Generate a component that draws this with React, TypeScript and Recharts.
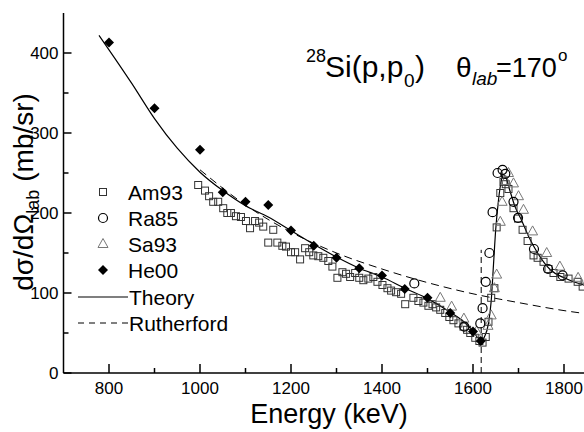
import React from 'react';
import { ComposedChart, Line, Scatter, XAxis, YAxis, ReferenceLine } from 'recharts';

const FONT = '"Liberation Sans", Arial, Helvetica, sans-serif';

// tick values
const xTicks = [800, 900, 1000, 1100, 1200, 1300, 1400, 1500, 1600, 1700, 1800];
const xMajor = [800, 1000, 1200, 1400, 1600, 1800];
const yTicks = [0, 50, 100, 150, 200, 250, 300, 350, 400];
const yMajor = [0, 100, 200, 300, 400];

// data [Energy keV, cross section mb/sr]
const am93: number[][] = [
  [996, 235], [1011, 228], [1020, 221], [1029, 214], [1040, 214], [1051, 206], [1060, 200], [1068, 200],
  [1079, 196], [1090, 195], [1101, 190], [1110, 181], [1121, 190], [1130, 188], [1139, 183], [1150, 163],
  [1161, 179], [1170, 163], [1181, 159], [1189, 158], [1200, 151], [1209, 151], [1220, 142], [1231, 156],
  [1240, 151], [1249, 147], [1260, 146], [1271, 144], [1282, 140], [1291, 133], [1302, 119], [1313, 126],
  [1321, 124], [1330, 120], [1341, 125], [1350, 119], [1359, 116], [1370, 118], [1381, 120], [1390, 114],
  [1401, 110], [1412, 106], [1420, 103], [1431, 101], [1442, 99], [1451, 86], [1469, 94], [1480, 90],
  [1491, 88], [1502, 84], [1511, 86], [1519, 82], [1528, 79], [1539, 75], [1548, 70], [1557, 66],
  [1568, 62], [1579, 58], [1587, 54], [1594, 50], [1605, 44], [1614, 40], [1621, 38], [1628, 45],
  [1634, 64], [1640, 94], [1647, 106], [1652, 182], [1660, 225], [1667, 239], [1672, 236], [1678, 230],
  [1689, 206], [1699, 193], [1709, 179], [1720, 165], [1733, 147], [1742, 144], [1755, 139], [1766, 130],
  [1777, 125], [1792, 120], [1810, 118], [1830, 114], [1841, 108],
];

const ra85: number[][] = [
  [1471, 112], [1581, 58], [1616, 62], [1621, 81], [1628, 114], [1636, 150], [1643, 201], [1654, 250],
  [1665, 254], [1671, 249], [1689, 214], [1699, 194], [1734, 155], [1765, 130], [1797, 122],
];

const sa93: number[][] = [
  [1528, 94], [1553, 83], [1580, 68], [1608, 52], [1633, 59], [1640, 72], [1647, 106], [1652, 123],
  [1660, 189], [1664, 214], [1672, 240], [1678, 250], [1689, 237], [1700, 221], [1711, 204], [1731, 177],
  [1762, 150], [1791, 133], [1831, 119],
];

const he00: number[][] = [
  [800, 413], [900, 331], [1000, 279], [1050, 226], [1100, 214], [1150, 210], [1200, 178], [1250, 159],
  [1300, 144], [1350, 131], [1400, 122], [1450, 105], [1500, 94], [1550, 75], [1600, 52], [1617, 40],
];

const theory: number[][] = [
  [778, 422], [800, 404], [850, 362], [900, 318], [950, 281], [1000, 251], [1050, 228], [1100, 209],
  [1150, 195], [1200, 178], [1250, 161], [1300, 145], [1350, 131], [1400, 120], [1450, 106], [1500, 93],
  [1550, 76], [1580, 64], [1600, 52], [1612, 43], [1618, 40], [1625, 45], [1634, 62], [1640, 90],
  [1645, 135], [1650, 180], [1656, 216], [1662, 240], [1667, 248], [1672, 245], [1680, 230], [1693, 207],
  [1705, 193], [1722, 171], [1742, 150], [1770, 129], [1800, 119], [1843, 110], [1850, 109],
];

const rutherford: number[][] = [
  [1000, 254], [1100, 210], [1200, 176], [1300, 150], [1400, 130], [1500, 113], [1600, 99],
  [1700, 88], [1800, 78], [1850, 74],
];

const resonanceE = 1618;
const resonanceTop = 154;

const toPts = (a: number[][]) => a.map(([x, y]) => ({ x, y }));

const BottomTick = (p: any) => {
  const v = p.payload.value;
  const major = xMajor.includes(v);
  return (
    <g>
      <line x1={p.x} x2={p.x} y1={p.y} y2={p.y - (major ? 9 : 5)} stroke="#000" strokeWidth={1.5} />
      {major && (
        <text x={p.x} y={p.y + 21} textAnchor="middle" fontSize={17} fontFamily={FONT} fill="#000">{v}</text>
      )}
    </g>
  );
};
const TopTick = (p: any) => {
  const major = xMajor.includes(p.payload.value);
  return <line x1={p.x} x2={p.x} y1={p.y} y2={p.y + (major ? 9 : 5)} stroke="#000" strokeWidth={1.5} />;
};
const LeftTick = (p: any) => {
  const v = p.payload.value;
  const major = yMajor.includes(v);
  return (
    <g>
      <line x1={p.x} x2={p.x + (major ? 8 : 5)} y1={p.y} y2={p.y} stroke="#000" strokeWidth={1.5} />
      {major && (
        <text x={p.x - 5} y={p.y + 6} textAnchor="end" fontSize={17} fontFamily={FONT} fill="#000">{v}</text>
      )}
    </g>
  );
};
const RightTick = (p: any) => {
  const major = yMajor.includes(p.payload.value);
  return <line x1={p.x} x2={p.x - (major ? 8 : 5)} y1={p.y} y2={p.y} stroke="#000" strokeWidth={1.5} />;
};

const Sq = (p: any) => (
  <rect x={p.cx - 3.5} y={p.cy - 3.5} width={7} height={7} fill="none" stroke="#333" strokeWidth={1} />
);
const Circ = (p: any) => <circle cx={p.cx} cy={p.cy} r={4.5} fill="none" stroke="#000" strokeWidth={1.2} />;
const Tri = (p: any) => (
  <polygon
    points={`${p.cx},${p.cy - 5.5} ${p.cx + 5},${p.cy + 3.5} ${p.cx - 5},${p.cy + 3.5}`}
    fill="none"
    stroke="#777"
    strokeWidth={1}
  />
);
const Dia = (p: any) => (
  <polygon points={`${p.cx},${p.cy - 5} ${p.cx + 5},${p.cy} ${p.cx},${p.cy + 5} ${p.cx - 5},${p.cy}`} fill="#000" />
);

const axisLine = { stroke: '#000', strokeWidth: 1.5 };

export default function App() {
  const legendRows = [
    { name: 'Am93', kind: 'sq', y: 192 },
    { name: 'Ra85', kind: 'ci', y: 218 },
    { name: 'Sa93', kind: 'tr', y: 244 },
    { name: 'He00', kind: 'di', y: 270 },
    { name: 'Theory', kind: 'line', y: 297 },
    { name: 'Rutherford', kind: 'dash', y: 323 },
  ];
  return (
    <div style={{ position: 'absolute', left: 0, top: 0, width: 584, height: 432, overflow: 'hidden', background: '#fff' }}>
      <ComposedChart
        width={600}
        height={432}
        margin={{ top: 13, right: 13.25, bottom: 29, left: 23.5 }}
      >
        <XAxis
          xAxisId={0}
          type="number"
          dataKey="x"
          domain={[700, 1850]}
          allowDataOverflow
          ticks={xTicks}
          interval={0}
          height={30}
          tickSize={0}
          tickMargin={0}
          tickLine={false}
          axisLine={axisLine}
          tick={<BottomTick />}
        />
        <XAxis
          xAxisId="top"
          orientation="top"
          type="number"
          dataKey="x"
          domain={[700, 1850]}
          allowDataOverflow
          ticks={xTicks}
          interval={0}
          height={0}
          tickSize={0}
          tickMargin={0}
          tickLine={false}
          axisLine={axisLine}
          tick={<TopTick />}
        />
        <YAxis
          yAxisId={0}
          type="number"
          dataKey="y"
          domain={[0, 450]}
          allowDataOverflow
          ticks={yTicks}
          interval={0}
          width={40}
          tickSize={0}
          tickMargin={0}
          tickLine={false}
          axisLine={axisLine}
          tick={<LeftTick />}
        />
        <YAxis
          yAxisId="right"
          orientation="right"
          type="number"
          dataKey="y"
          domain={[0, 450]}
          allowDataOverflow
          ticks={yTicks}
          interval={0}
          width={0}
          tickSize={0}
          tickMargin={0}
          tickLine={false}
          axisLine={axisLine}
          tick={<RightTick />}
        />
        <Line
          data={toPts(rutherford)}
          dataKey="y"
          type="monotone"
          stroke="#000"
          strokeWidth={1}
          strokeDasharray="8 5"
          dot={false}
          isAnimationActive={false}
        />
        <ReferenceLine
          segment={[{ x: resonanceE, y: 0 }, { x: resonanceE, y: resonanceTop }]}
          stroke="#000"
          strokeWidth={1}
          strokeDasharray="6 4"
        />
        <Line
          data={toPts(theory)}
          dataKey="y"
          type="monotone"
          stroke="#000"
          strokeWidth={1.2}
          dot={false}
          isAnimationActive={false}
        />
        <Scatter data={toPts(am93)} dataKey="y" shape={Sq} isAnimationActive={false} />
        <Scatter data={toPts(sa93)} dataKey="y" shape={Tri} isAnimationActive={false} />
        <Scatter data={toPts(ra85)} dataKey="y" shape={Circ} isAnimationActive={false} />
        <Scatter data={toPts(he00)} dataKey="y" shape={Dia} isAnimationActive={false} />
      </ComposedChart>
      <svg
        width={584}
        height={432}
        style={{ position: 'absolute', left: 0, top: 0, pointerEvents: 'none' }}
        fontFamily={FONT}
      >
        {/* title */}
        <text x={306} y={62} fontSize={18} fill="#000">28</text>
        <text x={325} y={77} fontSize={30} fill="#000">Si(p,p</text>
        <text x={404} y={87} fontSize={19} fill="#000">0</text>
        <text x={415} y={77} fontSize={30} fill="#000">)</text>
        <text x={456} y={77} fontSize={28} fill="#000">θ</text>
        <text x={472} y={85} fontSize={19} fontStyle="italic" fill="#000">lab</text>
        <text x={496} y={77} fontSize={27} fill="#000">=170</text>
        <text x={558} y={61} fontSize={17} fill="#000">o</text>
        {/* axis titles */}
        <text x={329} y={423} fontSize={27} textAnchor="middle" fill="#000">Energy (keV)</text>
        <text x={33} y={192} fontSize={28} textAnchor="middle" fill="#000" transform="rotate(-90 33 192)">
          dσ/dΩ<tspan fontSize={18} dy={6}>lab</tspan><tspan dy={-6}> (mb/sr)</tspan>
        </text>
        {/* legend */}
        {legendRows.map((r) => (
          <g key={r.name}>
            {r.kind === 'sq' && Sq({ cx: 103, cy: r.y })}
            {r.kind === 'ci' && Circ({ cx: 103, cy: r.y })}
            {r.kind === 'tr' && Tri({ cx: 103, cy: r.y })}
            {r.kind === 'di' && Dia({ cx: 103, cy: r.y })}
            {r.kind === 'line' && <line x1={78} x2={128} y1={r.y} y2={r.y} stroke="#000" strokeWidth={1.2} />}
            {r.kind === 'dash' && (
              <line x1={78} x2={128} y1={r.y} y2={r.y} stroke="#000" strokeWidth={1} strokeDasharray="6 5" />
            )}
            <text x={r.kind === 'line' || r.kind === 'dash' ? 129 : 128} y={r.y + 8} fontSize={21} fill="#000">
              {r.name}
            </text>
          </g>
        ))}
      </svg>
    </div>
  );
}
